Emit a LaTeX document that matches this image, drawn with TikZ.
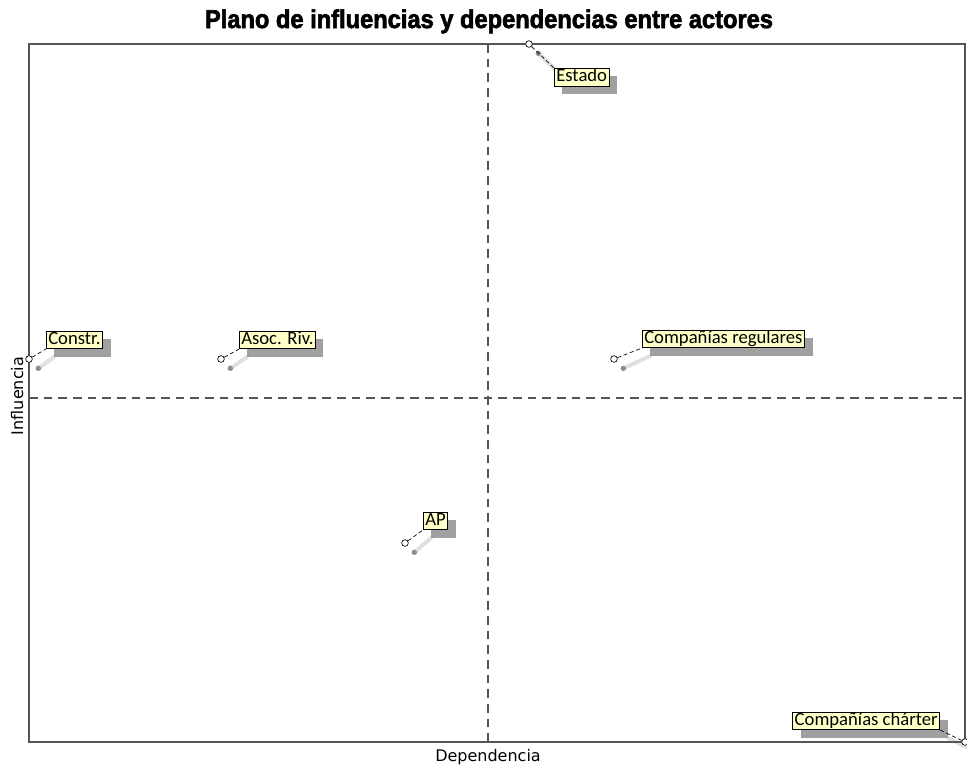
\documentclass[tikz,border=0pt]{standalone}
\usepackage{graphicx}
\usepackage{fontspec}
\setmainfont{Carlito}
\newfontfamily\titulofont[BoldFeatures={FakeBold=2.5}]{Liberation Sans}
\newfontfamily\ejefont{DejaVu Sans}
\usetikzlibrary{positioning,shadows,backgrounds}
\definecolor{amarillo}{RGB}{255,255,200}
\definecolor{gris}{RGB}{85,85,85}

\begin{document}
\begin{tikzpicture}[x=0.75pt,y=-0.75pt,
         actor/.style = {circle,draw=black,fill=white,inner sep=0pt,
         minimum size=5pt,line width=0.5pt},
         etiqueta/.style = {draw=black,fill=amarillo,line width=0.4pt,
         inner xsep=1.5pt,inner ysep=0.6pt,text height=9.5pt,text depth=2.5pt,
         font=\fontsize{14}{14}\selectfont,
         drop shadow={shadow xshift=6pt,shadow yshift=-6pt,fill=black!50,opacity=0.75}},
         enlace/.style = {densely dashed,line width=0.5pt},
         sombra/.style = {line width=3pt,black!12,line cap=round},
         eje/.style = {gris,line width=1.5pt,dash pattern=on 6.5pt off 4.5pt}
]
      \useasboundingbox (0,0) rectangle (967,765);

      % marco y ejes
      \draw[gris,line width=1.5pt] (29,44) rectangle (965,742);
      \draw[eje] (488,44) -- (488,742);
      \draw[eje] (29,398) -- (965,398);

      \node[anchor=base] (titulo) at (489,28)
         {\resizebox{426pt}{14pt}{\titulofont\bfseries Plano de influencias y dependencias entre actores}};
      \node[anchor=base,font=\ejefont\fontsize{12}{12}\selectfont] (xlab) at (488,761) {Dependencia};
      \node[anchor=base,rotate=90,font=\ejefont\fontsize{12}{12}\selectfont] (ylab) at (23,396) {Influencia};

      % actores
      \node[actor] (est)  at (529,44)  {};
      \node[actor] (cons) at (29,359)  {};
      \node[actor] (asoc) at (221,359) {};
      \node[actor] (creg) at (614,359) {};
      \node[actor] (ap)   at (405,543) {};
      \node[actor] (ccha) at (965,742) {};

      \node[etiqueta, below right=18pt and 18.75pt of est.center]  (est-l)  {Estado};
      \node[etiqueta, above right=7.5pt and 12.75pt of cons.center] (cons-l) {Constr.};
      \node[etiqueta, above right=7.5pt and 13.5pt of asoc.center]  (asoc-l) {Asoc. Riv.};
      \node[etiqueta, above right=8.25pt and 21pt of creg.center]   (creg-l) {Compañías regulares};
      \node[etiqueta, above right=9.75pt and 13.5pt of ap.center]   (ap-l)   {AP};
      \node[etiqueta, above left=9pt and 18.75pt of ccha.center]    (ccha-l) {Compañías chárter};

      \begin{scope}[on background layer]
         \foreach \a/\b in {est/north west,cons/south west,asoc/south west,
               creg/south west,ap/south west,ccha/south east}{
            \draw[sombra] ([shift={(7pt,-7pt)}]\a.center) -- ([shift={(6pt,-6pt)}]\a-l.\b);
            \fill[black!45] ([shift={(7pt,-7pt)}]\a.center) circle (2pt);
         }
      \end{scope}

      \foreach \a/\b in {est/north west,cons/south west,asoc/south west,
            creg/south west,ap/south west,ccha/south east}
         \draw[enlace] (\a) -- (\a-l.\b);
\end{tikzpicture}
\end{document}
